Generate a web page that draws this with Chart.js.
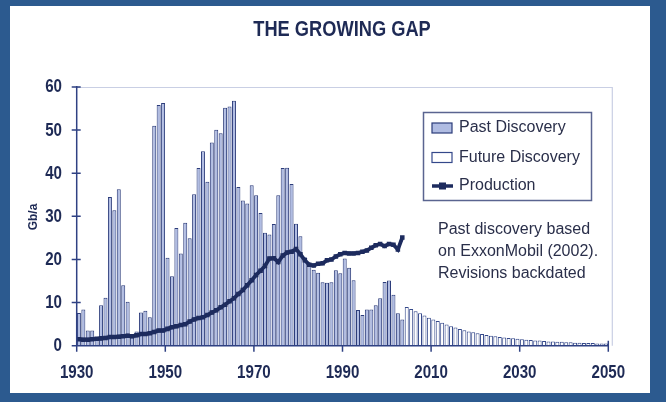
<!DOCTYPE html>
<html><head><meta charset="utf-8">
<script src="https://cdn.jsdelivr.net/npm/chart.js@4.4.0/dist/chart.umd.min.js"></script>
<style>html,body{margin:0;padding:0;background:#2c5a8f;} canvas{display:block;}</style>
</head><body>
<canvas id="c" width="666" height="402"></canvas>
<script>
const pastStart = 1930;
const futureStart = 2004;
const productionStart = 1930;

const pastDiscovery = [
  7.6, 8.4, 3.5, 3.5, 2.0, 9.4, 11.1, 34.5, 31.4, 36.3,
  14.0, 10.2, 2.0, 3.3, 7.7, 8.1, 6.6, 51.0, 55.8, 56.3,
  20.4, 16.1, 27.3, 21.4, 28.5, 24.9, 35.1, 41.2, 45.1, 38.0,
  47.1, 50.1, 49.3, 55.2, 55.5, 56.8, 36.8, 33.7, 33.0, 37.2,
  34.9, 30.8, 26.2, 25.8, 28.2, 34.9, 41.2, 41.3, 37.5, 28.3,
  25.4, 20.5, 18.7, 17.6, 16.9, 14.7, 14.6, 14.7, 17.5, 16.8,
  20.2, 18.1, 15.2, 8.3, 7.1, 8.4, 8.4, 9.4, 11.0, 14.8,
  15.1, 11.8, 7.5, 6.1
];
const futureDiscovery = [
  9.0, 8.5, 8.0, 7.5, 7.0, 6.5,
  6.1, 5.7, 5.3, 4.9, 4.5, 4.2, 3.9, 3.6, 3.3, 3.1,
  2.9, 2.7, 2.5, 2.3, 2.2, 2.0, 1.9, 1.8, 1.7, 1.6,
  1.5, 1.4, 1.3, 1.2, 1.2, 1.1, 1.0, 1.0, 0.9, 0.9,
  0.8, 0.8, 0.7, 0.7, 0.6, 0.6, 0.6, 0.5, 0.5, 0.5
];
const production = [
  1.5, 1.4, 1.4, 1.5, 1.6, 1.7, 1.8, 2.0, 2.0, 2.1,
  2.2, 2.3, 2.2, 2.4, 2.7, 2.7, 2.9, 3.2, 3.5, 3.5,
  3.9, 4.3, 4.5, 4.8, 5.0, 5.6, 6.1, 6.4, 6.6, 7.1,
  7.7, 8.2, 8.9, 9.5, 10.3, 11.0, 12.0, 12.9, 14.0, 15.2,
  16.4, 17.4, 18.5, 20.2, 20.3, 19.4, 20.9, 21.6, 21.8, 22.4,
  21.2, 19.8, 18.8, 18.6, 19.0, 19.1, 19.8, 20.0, 20.7, 21.2,
  21.5, 21.4, 21.4, 21.5, 21.8, 22.1, 22.7, 23.3, 23.6, 23.1,
  23.6, 23.4, 22.3, 25.1
];
const xTickLabels = ['1930','1950','1970','1990','2010','2030','2050'];
const yTickLabels = ['0','10','20','30','40','50','60'];
const titleText = 'THE GROWING GAP';
const yAxisTitle = 'Gb/a';
const legendLabels = ['Past Discovery', 'Future Discovery', 'Production'];
const noteLines = ['Past discovery based', 'on ExxonMobil (2002).', 'Revisions backdated'];

const NAVY = '#1d2b5e';
const AXIS = '#2f4183';
const TEXT = '#1e2a55';

function narrowText(ctx, text, x, y, sx) {
  ctx.save();
  ctx.translate(x, y);
  ctx.scale(sx, 1);
  ctx.fillText(text, 0, 0);
  ctx.restore();
}

const decor = {
  id: 'decor',
  beforeDraw(chart) {
    const ctx = chart.ctx, a = chart.chartArea;
    ctx.save();
    ctx.fillStyle = '#2c5a8f';
    ctx.fillRect(0, 0, chart.width, chart.height);
    ctx.fillStyle = '#ffffff';
    ctx.fillRect(10, 6, 640, 387);
    ctx.strokeStyle = '#c9cfe4';
    ctx.lineWidth = 1.2;
    ctx.beginPath();
    ctx.moveTo(a.left, a.top + 0.5);
    ctx.lineTo(a.right + 4, a.top + 0.5);
    ctx.lineTo(a.right + 4, a.bottom);
    ctx.stroke();
    ctx.restore();
  },
  afterDraw(chart) {
    const ctx = chart.ctx, a = chart.chartArea;
    const xs = chart.scales.x, ys = chart.scales.y;
    ctx.save();
    // axes
    ctx.strokeStyle = AXIS;
    ctx.lineWidth = 1.5;
    ctx.beginPath();
    ctx.moveTo(a.left, a.top - 1);
    ctx.lineTo(a.left, a.bottom + 6);
    ctx.moveTo(a.left, a.bottom);
    ctx.lineTo(a.right, a.bottom);
    ys.ticks.forEach(t => {
      const py = ys.getPixelForValue(t.value);
      ctx.moveTo(a.left - 5, py);
      ctx.lineTo(a.left + 4, py);
    });
    xs.ticks.forEach((t, i) => {
      const px = xs.getPixelForValue(t.value);
      const up = (i === xs.ticks.length - 1) ? 5 : 0;
      ctx.moveTo(px, a.bottom - up);
      ctx.lineTo(px, a.bottom + 6);
    });
    ctx.stroke();

    // tick labels (condensed bold)
    ctx.fillStyle = TEXT;
    ctx.font = 'bold 18px "Liberation Sans", sans-serif';
    ctx.textBaseline = 'middle';
    ctx.textAlign = 'center';
    xs.ticks.forEach((t, i) => {
      narrowText(ctx, xTickLabels[i], xs.getPixelForValue(t.value), 373, 0.84);
    });
    ctx.textAlign = 'right';
    ys.ticks.forEach((t, i) => {
      narrowText(ctx, yTickLabels[i], 62, ys.getPixelForValue(t.value) + 0.5, 0.84);
    });

    // title
    ctx.textAlign = 'center';
    ctx.font = 'bold 22px "Liberation Sans", sans-serif';
    narrowText(ctx, titleText, 342, 30, 0.83);

    // y axis title
    ctx.save();
    ctx.translate(34, 217);
    ctx.rotate(-Math.PI / 2);
    ctx.font = 'bold 12px "Liberation Sans", sans-serif';
    ctx.fillText(yAxisTitle, 0, 0);
    ctx.restore();

    // legend box
    const ds = chart.data.datasets;
    ctx.strokeStyle = '#5a6490';
    ctx.lineWidth = 1.5;
    ctx.strokeRect(423.5, 112.5, 168, 88);
    ctx.font = '16px "Liberation Sans", sans-serif';
    ctx.textAlign = 'left';
    ctx.textBaseline = 'middle';
    const rows = [127.5, 157.5, 186];
    ctx.fillStyle = ds[1].backgroundColor;
    ctx.fillRect(432, 123, 20, 10);
    ctx.strokeStyle = ds[1].borderColor;
    ctx.lineWidth = 1.2;
    ctx.strokeRect(432, 123, 20, 10);
    ctx.fillStyle = ds[2].backgroundColor;
    ctx.fillRect(432, 152.5, 20, 10);
    ctx.strokeStyle = ds[2].borderColor;
    ctx.strokeRect(432, 152.5, 20, 10);
    ctx.strokeStyle = ds[0].borderColor;
    ctx.lineWidth = 3.5;
    ctx.beginPath();
    ctx.moveTo(432, 186);
    ctx.lineTo(453, 186);
    ctx.stroke();
    ctx.fillStyle = ds[0].borderColor;
    ctx.fillRect(439, 182.5, 7, 7);

    ctx.fillStyle = '#2a2f4a';
    ctx.fillText(legendLabels[0], 459, rows[0]);
    ctx.fillText(legendLabels[1], 459, rows[1]);
    ctx.fillText(legendLabels[2], 459, rows[2]);

    noteLines.forEach((l, i) => ctx.fillText(l, 438, 230 + i * 21.7));
    ctx.restore();
  }
};

const pastData = pastDiscovery.map((v, i) => ({ x: pastStart + i + 0.5, y: v }));
const futureData = futureDiscovery.map((v, i) => ({ x: futureStart + i + 0.5, y: v }));
const prodData = production.map((v, i) => ({ x: productionStart + i + 0.5, y: v }));

new Chart(document.getElementById('c'), {
  data: {
    datasets: [
      {
        type: 'line', label: legendLabels[2], data: prodData, order: 0,
        borderColor: NAVY, backgroundColor: NAVY, borderWidth: 3.8,
        pointStyle: 'rect', pointRadius: 3.2, pointBorderWidth: 0,
        pointBackgroundColor: NAVY, tension: 0, fill: false
      },
      {
        type: 'bar', label: legendLabels[0], data: pastData, order: 1, grouped: false,
        backgroundColor: '#b0bce2', borderColor: '#2c3c7a', borderWidth: 1,
        barPercentage: 0.9, categoryPercentage: 1
      },
      {
        type: 'bar', label: legendLabels[1], data: futureData, order: 2, grouped: false,
        backgroundColor: '#ffffff', borderColor: '#34488a', borderWidth: 1,
        barPercentage: 0.9, categoryPercentage: 1
      }
    ]
  },
  options: {
    responsive: false,
    animation: false,
    devicePixelRatio: 1,
    layout: { padding: { left: 0, right: 57.7, top: 87, bottom: 0 } },
    plugins: { legend: { display: false }, tooltip: { enabled: false }, title: { display: false } },
    scales: {
      x: {
        type: 'linear', min: 1930, max: 2050, offset: false,
        grid: { display: false, drawTicks: false }, border: { display: false },
        ticks: { stepSize: 20, autoSkip: false, maxRotation: 0, display: false },
        afterFit: s => { s.height = 402 - 345.7; }
      },
      y: {
        type: 'linear', min: 0, max: 60,
        grid: { display: false, drawTicks: false }, border: { display: false },
        ticks: { stepSize: 10, display: false },
        afterFit: s => { s.width = 76.7; }
      }
    }
  },
  plugins: [decor]
});
</script>
</body></html>
